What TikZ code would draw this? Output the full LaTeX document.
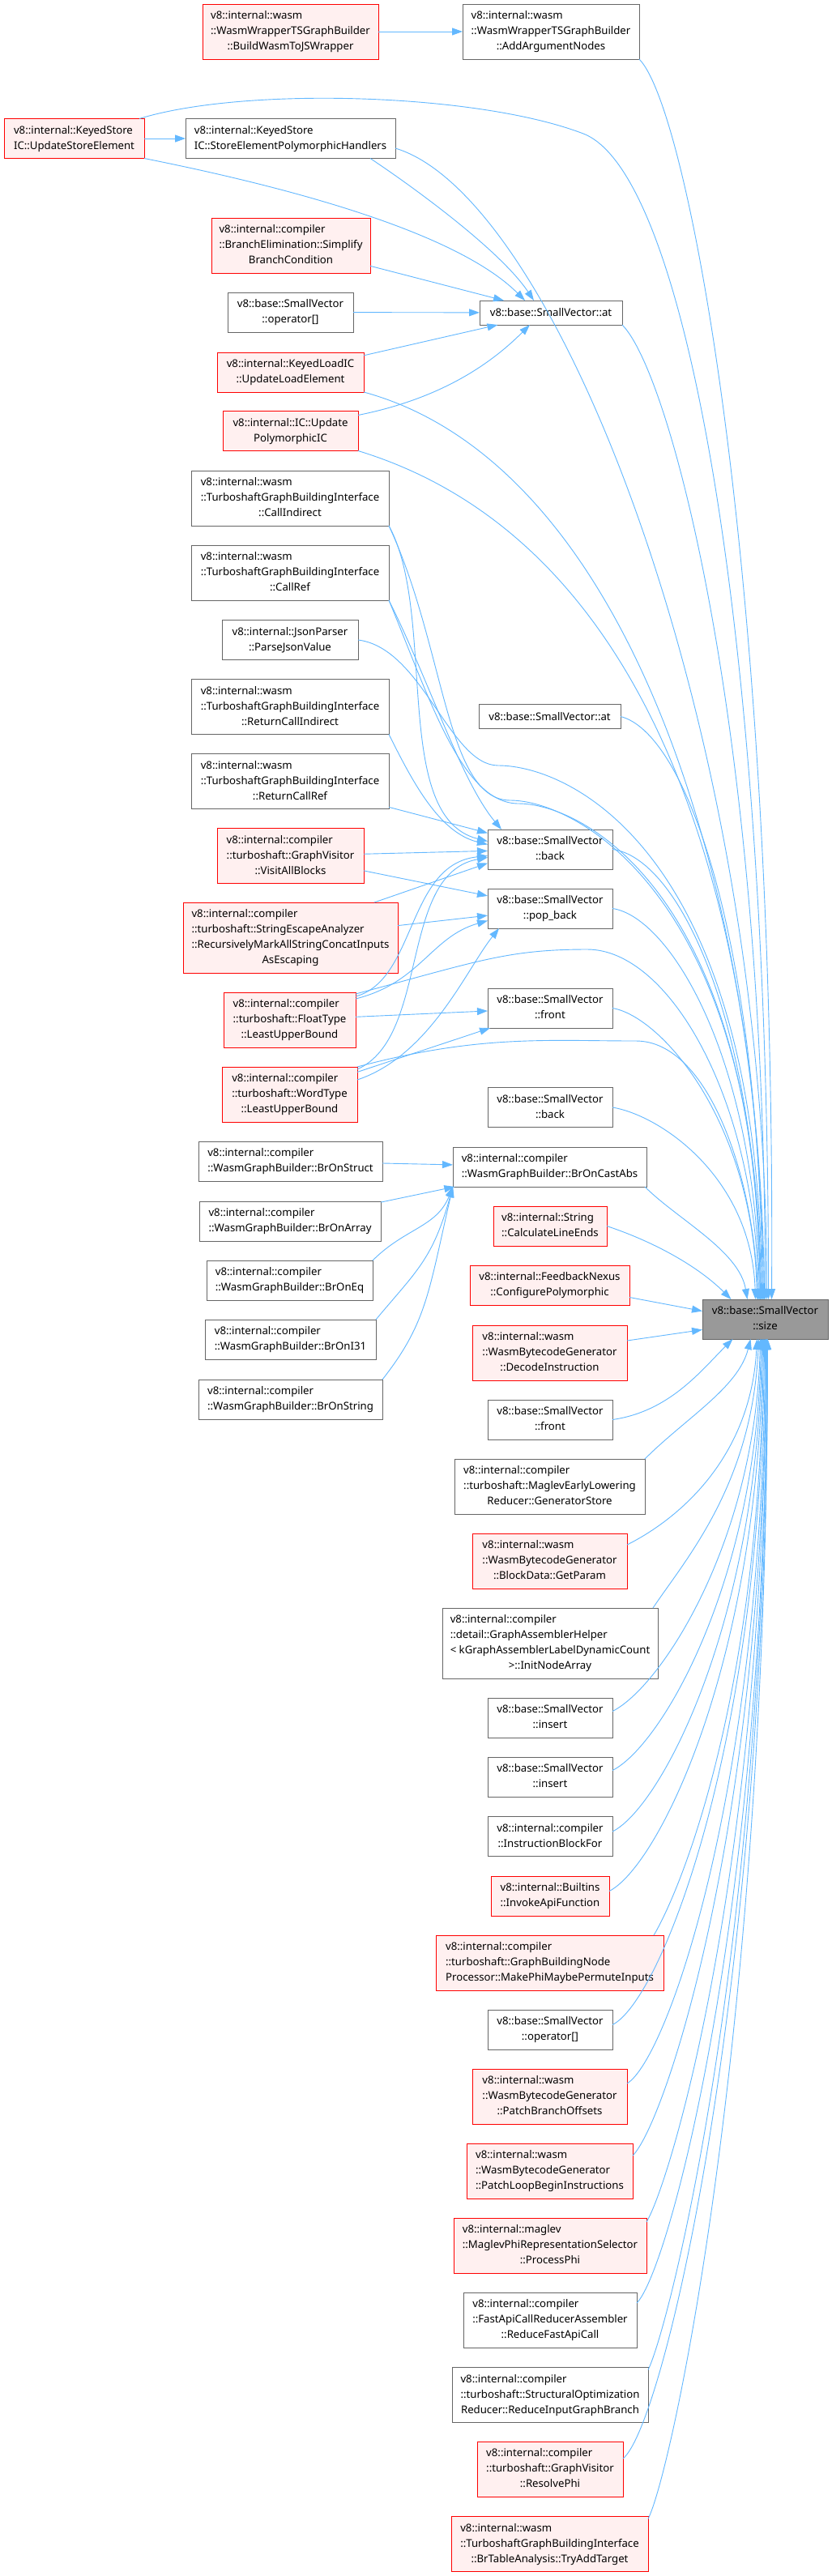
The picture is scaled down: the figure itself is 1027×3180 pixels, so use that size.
\documentclass[tikz,border=0pt]{standalone}
\usepackage{fontspec}
\setmainfont{Noto Sans}
\usepackage{xcolor}
\usetikzlibrary{arrows.meta}

\definecolor{edgeblue}{HTML}{63B8FF}
\definecolor{boxgray}{HTML}{666666}
\definecolor{hotfill}{HTML}{FFF0F0}
\definecolor{focusfill}{HTML}{999999}

\newcommand{\dlabel}[2]{\begin{tabular}{@{}l@{}}#1\\\multicolumn{1}{@{}c@{}}{#2}\end{tabular}}

\begin{document}
\begin{tikzpicture}[
    x=1pt, y=1pt,
    every node/.style={draw=boxgray, fill=white, line width=1pt, inner xsep=0pt, inner ysep=5.5pt, outer sep=0pt, font=\fontsize{13.2}{19}\selectfont},
    hotfn/.style={draw=red, fill=hotfill},
    focus/.style={fill=focusfill},
    calls/.style={draw=edgeblue, line width=0.9pt, -{Triangle[length=13pt, width=9pt]}}
]
\path[use as bounding box, fill=white] (0,0) rectangle (1027,-3180);

\node[hotfn, minimum width=217pt] (buildWasmToJS) at (358.5,-39) {\dlabel{v8::internal::wasm\\::WasmWrapperTSGraphBuilder}{::BuildWasmToJSWrapper}};
\node[minimum width=218pt] (addArgNodes) at (680,-39) {\dlabel{v8::internal::wasm\\::WasmWrapperTSGraphBuilder}{::AddArgumentNodes}};
\node[hotfn, minimum width=173pt] (updateStoreElem) at (91.5,-171) {\dlabel{v8::internal::KeyedStore}{IC::UpdateStoreElement}};
\node[minimum width=259pt] (storePolyHandlers) at (358.5,-171) {\dlabel{v8::internal::KeyedStore}{IC::StoreElementPolymorphicHandlers}};
\node[hotfn, minimum width=196pt] (simplifyBranch) at (359,-303) {\dlabel{v8::internal::compiler\\::BranchElimination::Simplify}{BranchCondition}};
\node[minimum width=155pt] (opIndexA) at (358.5,-385.5) {\dlabel{v8::base::SmallVector}{::operator[]}};
\node[minimum width=176pt, minimum height=30pt] (atA) at (680,-386) {v8::base::SmallVector::at};
\node[hotfn, minimum width=181pt] (updateLoadElem) at (358.5,-459.5) {\dlabel{v8::internal::KeyedLoadIC}{::UpdateLoadElement}};
\node[hotfn, minimum width=167pt] (updatePolyIC) at (358.5,-532) {\dlabel{v8::internal::IC::Update}{PolymorphicIC}};
\node[minimum width=244pt] (callIndirect) at (358,-615) {\dlabel{v8::internal::wasm\\::TurboshaftGraphBuildingInterface}{::CallIndirect}};
\node[minimum width=244pt] (callRef) at (358,-707) {\dlabel{v8::internal::wasm\\::TurboshaftGraphBuildingInterface}{::CallRef}};
\node[minimum width=168pt] (parseJson) at (358,-790) {\dlabel{v8::internal::JsonParser}{::ParseJsonValue}};
\node[minimum width=244pt] (returnCallIndirect) at (358,-872.5) {\dlabel{v8::internal::wasm\\::TurboshaftGraphBuildingInterface}{::ReturnCallIndirect}};
\node[minimum width=244pt] (returnCallRef) at (358,-964.5) {\dlabel{v8::internal::wasm\\::TurboshaftGraphBuildingInterface}{::ReturnCallRef}};
\node[minimum width=175pt, minimum height=30pt] (atB) at (678.5,-884.5) {v8::base::SmallVector::at};
\node[hotfn, minimum width=181pt] (visitAllBlocks) at (358.5,-1056.5) {\dlabel{v8::internal::compiler\\::turboshaft::GraphVisitor}{::VisitAllBlocks}};
\node[hotfn, minimum width=265pt] (stringEscape) at (358.5,-1157.5) {\dlabel{v8::internal::compiler\\::turboshaft::StringEscapeAnalyzer\\::RecursivelyMarkAllStringConcatInputs}{AsEscaping}};
\node[hotfn, minimum width=163pt] (floatLub) at (357.5,-1259) {\dlabel{v8::internal::compiler\\::turboshaft::FloatType}{::LeastUpperBound}};
\node[hotfn, minimum width=167pt] (wordLub) at (357.5,-1351) {\dlabel{v8::internal::compiler\\::turboshaft::WordType}{::LeastUpperBound}};
\node[minimum width=154pt] (backA) at (679,-1048.5) {\dlabel{v8::base::SmallVector}{::back}};
\node[minimum width=154pt] (popBack) at (679,-1121.5) {\dlabel{v8::base::SmallVector}{::pop\_back}};
\node[minimum width=154pt] (frontA) at (679,-1244.5) {\dlabel{v8::base::SmallVector}{::front}};
\node[minimum width=154pt] (backB) at (679,-1367) {\dlabel{v8::base::SmallVector}{::back}};
\node[minimum width=239pt] (brOnCastAbs) at (678.5,-1440.5) {\dlabel{v8::internal::compiler}{::WasmGraphBuilder::BrOnCastAbs}};
\node[minimum width=227pt] (brOnStruct) at (358.5,-1433.5) {\dlabel{v8::internal::compiler}{::WasmGraphBuilder::BrOnStruct}};
\node[minimum width=224pt] (brOnArray) at (358,-1507.5) {\dlabel{v8::internal::compiler}{::WasmGraphBuilder::BrOnArray}};
\node[minimum width=205pt] (brOnEq) at (357.5,-1580.5) {\dlabel{v8::internal::compiler}{::WasmGraphBuilder::BrOnEq}};
\node[minimum width=211pt] (brOnI31) at (358.5,-1653.5) {\dlabel{v8::internal::compiler}{::WasmGraphBuilder::BrOnI31}};
\node[minimum width=227pt] (brOnString) at (358.5,-1727.5) {\dlabel{v8::internal::compiler}{::WasmGraphBuilder::BrOnString}};
\node[hotfn, minimum width=140pt] (calcLineEnds) at (679,-1513.5) {\dlabel{v8::internal::String}{::CalculateLineEnds}};
\node[hotfn, minimum width=197pt] (feedbackNexus) at (678.5,-1586.5) {\dlabel{v8::internal::FeedbackNexus}{::ConfigurePolymorphic}};
\node[hotfn, minimum width=191pt] (decodeInstr) at (678.5,-1670) {\dlabel{v8::internal::wasm\\::WasmBytecodeGenerator}{::DecodeInstruction}};
\node[minimum width=154pt] (frontB) at (679,-1752.5) {\dlabel{v8::base::SmallVector}{::front}};
\node[minimum width=235pt] (generatorStore) at (678.5,-1835) {\dlabel{v8::internal::compiler\\::turboshaft::MaglevEarlyLowering}{Reducer::GeneratorStore}};
\node[hotfn, minimum width=191pt] (getParam) at (678.5,-1927) {\dlabel{v8::internal::wasm\\::WasmBytecodeGenerator}{::BlockData::GetParam}};
\node[minimum width=266pt] (initNodeArray) at (679,-2028.5) {\dlabel{v8::internal::compiler\\::detail::GraphAssemblerHelper\\< kGraphAssemblerLabelDynamicCount}{>::InitNodeArray}};
\node[minimum width=154pt] (insertA) at (679,-2120.5) {\dlabel{v8::base::SmallVector}{::insert}};
\node[minimum width=154pt] (insertB) at (679,-2193.5) {\dlabel{v8::base::SmallVector}{::insert}};
\node[minimum width=154pt] (instrBlockFor) at (679,-2267) {\dlabel{v8::internal::compiler}{::InstructionBlockFor}};
\node[hotfn, minimum width=146pt] (invokeApi) at (679,-2340.5) {\dlabel{v8::internal::Builtins}{::InvokeApiFunction}};
\node[hotfn, minimum width=281pt] (makePhi) at (678.5,-2423) {\dlabel{v8::internal::compiler\\::turboshaft::GraphBuildingNode}{Processor::MakePhiMaybePermuteInputs}};
\node[minimum width=154pt] (opIndexB) at (679,-2505.5) {\dlabel{v8::base::SmallVector}{::operator[]}};
\node[hotfn, minimum width=191pt] (patchBranch) at (678.5,-2588) {\dlabel{v8::internal::wasm\\::WasmBytecodeGenerator}{::PatchBranchOffsets}};
\node[hotfn, minimum width=205pt] (patchLoop) at (678.5,-2680) {\dlabel{v8::internal::wasm\\::WasmBytecodeGenerator}{::PatchLoopBeginInstructions}};
\node[hotfn, minimum width=238pt] (processPhi) at (679,-2772) {\dlabel{v8::internal::maglev\\::MaglevPhiRepresentationSelector}{::ProcessPhi}};
\node[minimum width=214pt] (reduceFastApi) at (679,-2864) {\dlabel{v8::internal::compiler\\::FastApiCallReducerAssembler}{::ReduceFastApiCall}};
\node[minimum width=242pt] (reduceBranch) at (679,-2956.5) {\dlabel{v8::internal::compiler\\::turboshaft::StructuralOptimization}{Reducer::ReduceInputGraphBranch}};
\node[hotfn, minimum width=180pt] (resolvePhi) at (679,-3048) {\dlabel{v8::internal::compiler\\::turboshaft::GraphVisitor}{::ResolvePhi}};
\node[hotfn, minimum width=243pt] (tryAddTarget) at (678.5,-3140.5) {\dlabel{v8::internal::wasm\\::TurboshaftGraphBuildingInterface}{::BrTableAnalysis::TryAddTarget}};
\node[focus, minimum width=155pt] (sizeFn) at (944.5,-1628.5) {\dlabel{v8::base::SmallVector}{::size}};

\draw[calls] (buildWasmToJS) -- (addArgNodes);
\draw[calls] (updateStoreElem) -- (storePolyHandlers);
\draw[calls] (updateStoreElem.south east) .. controls +(150,-30) and +(-90,90) .. ([xshift=-32]atA.north);
\draw[calls] ([xshift=-31]storePolyHandlers.south east) .. controls +(60,-40) and +(-40,60) .. ([xshift=-21]atA.north);
\draw[calls] (simplifyBranch) -- (atA);
\draw[calls] (opIndexA) -- (atA);
\draw[calls] (updateLoadElem) -- (atA);
\draw[calls] ([yshift=-5]updatePolyIC.north east) .. controls +(100,20) and +(-50,-50) .. ([xshift=-26]atA.south);

\draw[calls] (callIndirect.south east) .. controls +(60,-110) and +(-120,30) .. ([yshift=10]backA.west);
\draw[calls] (callRef.south east) .. controls +(50,-100) and +(-50,60) .. ([xshift=-60]backA.north);
\draw[calls] (returnCallIndirect.south east) .. controls +(30,-60) and +(-60,15) .. ([yshift=6]backA.west);
\draw[calls] (returnCallRef) -- (backA);
\draw[calls] (visitAllBlocks) -- (backA);
\draw[calls] (visitAllBlocks) -- (popBack);
\draw[calls] ([xshift=-29]stringEscape.north east) -- ([yshift=-17]backA.west);
\draw[calls] (stringEscape) -- (popBack);
\draw[calls] ([yshift=-5]floatLub.north east) .. controls +(75,20) and +(-100,-10) .. ([yshift=-8]backA.west);
\draw[calls] ([yshift=-8]floatLub.north east) .. controls +(80,20) and +(-70,-20) .. ([yshift=-15]popBack.west);
\draw[calls] (floatLub) -- (frontA);
\draw[calls] ([yshift=-3]wordLub.north east) .. controls +(90,40) and +(-110,-20) .. ([yshift=-10]backA.west);
\draw[calls] ([yshift=-16]wordLub.north east) .. controls +(90,30) and +(-40,-50) .. ([xshift=-63]popBack.south);
\draw[calls] (wordLub) -- (frontA);

\draw[calls] (brOnStruct) -- (brOnCastAbs);
\draw[calls] (brOnArray) -- (brOnCastAbs);
\draw[calls] (brOnEq.north east) .. controls +(40,40) and +(-20,-50) .. (brOnCastAbs.south west);
\draw[calls] (brOnI31.north east) .. controls +(50,60) and +(-25,-90) .. (brOnCastAbs.south west);
\draw[calls] (brOnString.north east) .. controls +(55,70) and +(-30,-130) .. (brOnCastAbs.south west);

\draw[calls] (addArgNodes.south east) .. controls +(60,-60) and +(5,900) .. ([xshift=8]sizeFn.north);
\draw[calls] ([xshift=-6]updateStoreElem.north east) .. controls +(130,40) and +(-130,50) .. (720,-165) .. controls +(130,-50) and +(0,800) .. ([xshift=4]sizeFn.north);
\draw[calls] ([yshift=-12]storePolyHandlers.east) .. controls +(200,-60) and +(0,700) .. ([xshift=2]sizeFn.north);
\draw[calls] (atA.south east) .. controls +(60,-60) and +(0,700) .. (sizeFn.north);
\draw[calls] (updateLoadElem.south east) .. controls +(330,-90) and +(-5,500) .. ([xshift=-1]sizeFn.north);
\draw[calls] (updatePolyIC.south east) .. controls +(360,-110) and +(-5,500) .. ([xshift=-2]sizeFn.north);
\draw[calls] (callIndirect.south east) .. controls +(70,-150) and +(-80,0) .. (630,-988) .. controls +(80,0) and +(-5,500) .. ([xshift=-5]sizeFn.north);
\draw[calls] (callRef.south east) .. controls +(50,-120) and +(-70,0) .. (640,-992) .. controls +(80,0) and +(-5,500) .. ([xshift=-6]sizeFn.north);
\draw[calls] (parseJson.east) .. controls +(80,-10) and +(-60,0) .. (615,-945) .. controls +(90,0) and +(-5,550) .. ([xshift=-4]sizeFn.north);
\draw[calls] (atB.east) .. controls +(80,-20) and +(-5,450) .. ([xshift=-3]sizeFn.north);
\draw[calls] (backA.east) .. controls +(80,-10) and +(-5,350) .. ([xshift=-6]sizeFn.north);
\draw[calls] (popBack.east) .. controls +(70,-10) and +(-5,300) .. ([xshift=-7]sizeFn.north);
\draw[calls] ([yshift=-2]floatLub.north east) .. controls +(150,40) and +(-100,0) .. (725,-1172) .. controls +(100,0) and +(-5,250) .. ([xshift=-8]sizeFn.north);
\draw[calls] (frontA.east) .. controls +(60,-10) and +(-5,220) .. ([xshift=-10]sizeFn.north);
\draw[calls] (wordLub.north east) .. controls +(150,40) and +(-110,0) .. (785,-1285) .. controls +(90,0) and +(-5,150) .. ([xshift=-9]sizeFn.north);
\draw[calls] (backB.east) .. controls +(60,-10) and +(-5,150) .. ([xshift=-12]sizeFn.north);
\draw[calls] ([xshift=-2]brOnCastAbs.south east) .. controls +(40,-40) and +(-10,60) .. ([xshift=-22]sizeFn.north);
\draw[calls] (calcLineEnds.east) .. controls +(60,-20) and +(-40,40) .. ([xshift=-42]sizeFn.north);
\draw[calls] ([yshift=-15]feedbackNexus.east) -- ([yshift=10]sizeFn.west);
\draw[calls] ([yshift=15]decodeInstr.east) -- ([yshift=-13]sizeFn.west);
\draw[calls] (frontB.east) .. controls +(70,10) and +(-40,-40) .. ([xshift=-40]sizeFn.south);
\draw[calls] (generatorStore.north east) .. controls +(50,50) and +(-15,-60) .. ([xshift=-18]sizeFn.south);
\draw[calls] ([yshift=20]getParam.east) .. controls +(60,30) and +(-8,-150) .. ([xshift=-10]sizeFn.south);
\draw[calls] ([xshift=-6]initNodeArray.north east) .. controls +(40,60) and +(-8,-180) .. ([xshift=-8]sizeFn.south);
\draw[calls] ([yshift=8]insertA.east) .. controls +(60,30) and +(-6,-250) .. ([xshift=-6]sizeFn.south);
\draw[calls] ([yshift=8]insertB.east) .. controls +(60,30) and +(-5,-300) .. ([xshift=-5]sizeFn.south);
\draw[calls] ([yshift=6]instrBlockFor.east) .. controls +(60,30) and +(-5,-350) .. ([xshift=-4]sizeFn.south);
\draw[calls] ([yshift=6]invokeApi.east) .. controls +(60,30) and +(-4,-400) .. ([xshift=-3]sizeFn.south);
\draw[calls] ([xshift=-12]makePhi.north east) .. controls +(30,50) and +(-4,-450) .. ([xshift=-2]sizeFn.south);
\draw[calls] ([yshift=6]opIndexB.east) .. controls +(60,30) and +(-3,-500) .. ([xshift=-1]sizeFn.south);
\draw[calls] ([yshift=16]patchBranch.east) .. controls +(50,30) and +(-2,-550) .. (sizeFn.south);
\draw[calls] ([yshift=19]patchLoop.east) .. controls +(40,40) and +(-2,-600) .. ([xshift=1]sizeFn.south);
\draw[calls] ([yshift=-5]processPhi.north east) .. controls +(30,50) and +(-1,-650) .. ([xshift=1]sizeFn.south);
\draw[calls] ([yshift=21]reduceFastApi.east) .. controls +(40,40) and +(0,-700) .. ([xshift=2]sizeFn.south);
\draw[calls] ([yshift=-3]reduceBranch.north east) .. controls +(25,50) and +(0,-750) .. ([xshift=2]sizeFn.south);
\draw[calls] ([yshift=13]resolvePhi.east) .. controls +(50,40) and +(0,-800) .. ([xshift=3]sizeFn.south);
\draw[calls] ([yshift=-3]tryAddTarget.north east) .. controls +(30,60) and +(0,-850) .. ([xshift=3]sizeFn.south);
\end{tikzpicture}
\end{document}
